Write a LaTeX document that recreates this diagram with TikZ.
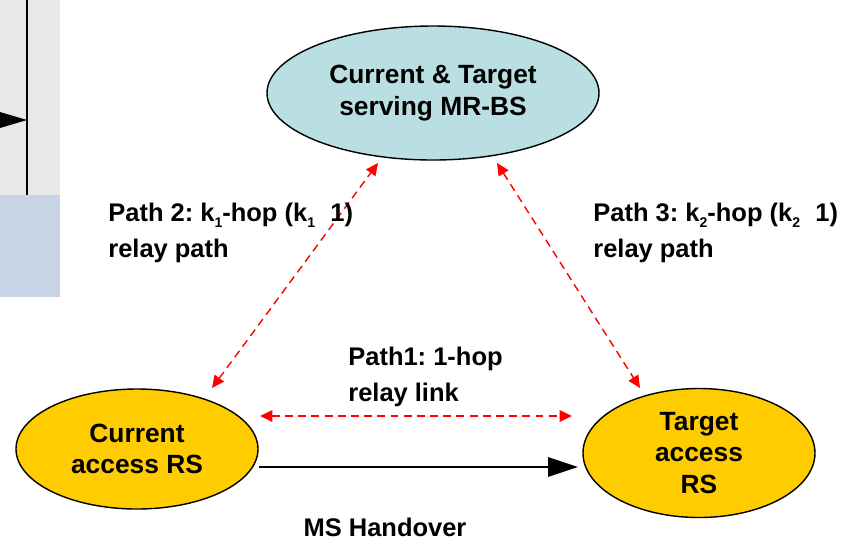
\documentclass[tikz,border=0pt]{standalone}
\usepackage{fontspec}
\setmainfont{Liberation Sans}
\usetikzlibrary{calc,shapes.geometric,arrows.meta}
\definecolor{bsblue}{HTML}{B9DFE3}
\definecolor{rsyellow}{HTML}{FFCC00}
\definecolor{panelgray}{HTML}{E8E8E8}
\definecolor{panelblue}{HTML}{C8D4E6}
\frenchspacing
\newcommand\hopsub[1]{\raisebox{-0.4ex}{\fontsize{8}{8}\selectfont #1}}
\tikzset{
	station/.style={ellipse, draw=black, line width=0.8pt, align=center, inner sep=0pt, font=\fontsize{15}{18}\selectfont\bfseries},
	relaypath/.style={red, line width=0.8pt, dash pattern=on 4.5pt off 3pt, {Triangle[length=7pt,width=6.5pt]}-{Triangle[length=7pt,width=6.5pt]}},
	pathlabel/.style={anchor=north west, align=left, inner sep=0pt, font=\fontsize{14.5}{20.5}\selectfont\bfseries}
}

\begin{document}
\begin{tikzpicture}
			%%%%% START %%%%%
			\useasboundingbox (0, 0) rectangle (16.92, -10.84);
			
			% left panel
			\fill[panelgray] (0, 0) rectangle (1.2, -3.9);
			\fill[panelblue] (0, -3.9) rectangle (1.2, -5.94);
			\draw[line width=0.6pt] (0.54, 0) -- (0.54, -3.9);
			\fill[black] (0, -2.24) -- (0.54, -2.4) -- (0, -2.56) -- cycle;
			
			% stations
			\node[station, fill=bsblue, minimum width=6.64cm, minimum height=2.68cm] (mrbs) at (8.66, -1.86) {Current \& Target\\serving MR-BS};
			\node[station, fill=rsyellow, minimum width=4.84cm, minimum height=2.4cm] (currs) at (2.74, -8.98) {Current\\access RS};
			\node[station, fill=rsyellow, minimum width=4.64cm, minimum height=2.58cm] (tgtrs) at (13.98, -9.06) {Target\\access\\RS};
			
			% relay paths
			\draw[relaypath] ($(currs)+(1.5, 1.22)$) -- ($(mrbs)+(-1.1, -1.4)$);
			\draw[relaypath] ($(mrbs)+(1.28, -1.4)$) -- ($(tgtrs)+(-1.18, 1.3)$);
			\draw[relaypath] ($(currs)+(2.46, 0.66)$) -- ($(tgtrs)+(-2.54, 0.74)$);
			
			% handover
			\draw[line width=1.1pt, -{Triangle[length=17pt,width=11pt]}] ($(currs)+(2.44, -0.36)$) -- ($(tgtrs)+(-2.42, -0.28)$);
			
			% labels
			\node[pathlabel] (lbltwo) at (2.16, -4.06) {Path 2: k\hopsub{1}-hop (k\hopsub{1}\hspace{0.6em}1)\\relay path};
			\node[pathlabel] (lblthree) at (11.86, -4.06) {Path 3: k\hopsub{2}-hop (k\hopsub{2}\hspace{0.6em}1)\\relay path};
			\node[pathlabel] (lblone) at (6.96, -6.94) {Path1: 1-hop\\relay link};
			\node[pathlabel, anchor=north] (lblho) at (7.7, -10.36) {MS Handover};
			
			%%%%% END %%%%%
\end{tikzpicture}
\end{document}
